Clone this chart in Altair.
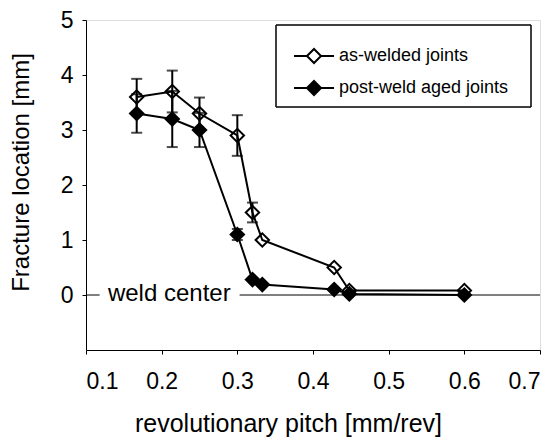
import altair as alt
import pandas as pd

# ---- data ----
pitch = [0.167, 0.214, 0.25, 0.30, 0.32, 0.333, 0.428, 0.448, 0.60]
as_welded = [3.6, 3.7, 3.3, 2.9, 1.5, 1.0, 0.5, 0.08, 0.08]
as_welded_err = [0.33, 0.38, 0.29, 0.37, 0.18, 0.0, 0.0, 0.0, 0.0]
aged = [3.3, 3.2, 3.0, 1.1, 0.28, 0.19, 0.1, 0.02, 0.0]
aged_err = [0.35, 0.51, 0.31, 0.1, 0.0, 0.0, 0.0, 0.0, 0.0]
series = ["as-welded joints", "post-weld aged joints"]

x_ticks = [0.1, 0.2, 0.3, 0.4, 0.5, 0.6, 0.7]
y_ticks = [0, 1, 2, 3, 4, 5]

zero_x = [0.1, 0.303]
zero_x2 = [0.118, 0.7]
label_text = ["weld center"]
label_x = [0.129]

rows = []
for s, vals, errs in [(series[0], as_welded, as_welded_err), (series[1], aged, aged_err)]:
    for p, v, e in zip(pitch, vals, errs):
        rows.append({"pitch": p, "value": v, "err": e, "lo": v - e, "hi": v + e, "series": s})
df = pd.DataFrame(rows)
err_df = df[df["err"] > 0]

zero_df = pd.DataFrame({"x": zero_x, "x2": zero_x2, "y": [0, 0]})
lab_df = pd.DataFrame({"x": label_x, "y": [0], "t": label_text})

FONT = "Liberation Sans"

xs = alt.Scale(domain=[0.1, 0.7], nice=False, zero=False)
ys = alt.Scale(domain=[-1, 5], nice=False, zero=False)

x_axis = alt.Axis(values=x_ticks, format=".1f", grid=False, tickSize=4, labelPadding=16,
                  labelFontSize=23, title="revolutionary pitch [mm/rev]", titleFontSize=25,
                  titleFontWeight="normal", titleX=202, titleY=81, titleBaseline="alphabetic",
                  titleAlign="center", labelFont=FONT, titleFont=FONT, domainColor="black",
                  tickColor="black", labelColor="black", titleColor="black")
y_axis = alt.Axis(values=y_ticks, format="d", grid=False, tickSize=4, labelPadding=9,
                  labelFontSize=23, title="Fracture location [mm]", titleFontSize=24,
                  titleFontWeight="normal", titleX=-58, titleY=152, titleBaseline="alphabetic",
                  titleAlign="center", titleAngle=270, labelFont=FONT, titleFont=FONT,
                  domainColor="black", tickColor="black", labelColor="black", titleColor="black")

zero_line = alt.Chart(zero_df).mark_rule(color="black", strokeWidth=1).encode(
    x=alt.X("x:Q", scale=xs, axis=x_axis), x2="x2:Q", y=alt.Y("y:Q", scale=ys, axis=y_axis)
)

label = alt.Chart(lab_df).mark_text(align="left", baseline="middle", fontSize=24, font=FONT,
                                    color="black", dy=-1).encode(
    x=alt.X("x:Q", scale=xs), y=alt.Y("y:Q", scale=ys), text="t:N"
)

err_rule = alt.Chart(err_df).mark_rule(color="black", strokeWidth=2).encode(
    x=alt.X("pitch:Q", scale=xs), y=alt.Y("lo:Q", scale=ys), y2="hi:Q"
)

caps = alt.Chart(err_df).transform_fold(["lo", "hi"], as_=["k", "v"]).mark_tick(
    color="black", thickness=2, size=11, orient="horizontal").encode(
    x=alt.X("pitch:Q", scale=xs), y=alt.Y("v:Q", scale=ys)
)

lines = alt.Chart(df).mark_line(color="black", strokeWidth=2).encode(
    x=alt.X("pitch:Q", scale=xs), y=alt.Y("value:Q", scale=ys), detail="series:N"
)

legend_path = "M-2,0H-0.7M0.7,0H2M-0.7,0L0,-0.7L0.7,0L0,0.7Z"

points = alt.Chart(df).mark_point(shape="diamond", size=180, filled=False, stroke="black",
                                  strokeWidth=2, opacity=1).encode(
    x=alt.X("pitch:Q", scale=xs), y=alt.Y("value:Q", scale=ys),
    fill=alt.Fill("series:N", scale=alt.Scale(domain=series, range=["transparent", "black"]),
                  legend=alt.Legend(title=None, orient="none", legendX=217, legendY=25,
                                    symbolType=legend_path, symbolSize=400,
                                    symbolStrokeColor="black", symbolStrokeWidth=2,
                                    labelFontSize=18, labelFont=FONT, labelColor="black",
                                    labelLimit=400, labelOffset=14, rowPadding=10, padding=0)),
)

frame = alt.Chart(zero_df).mark_rect(fill="transparent", stroke="black", strokeWidth=1).encode(
    x=alt.value(190), x2=alt.value(445), y=alt.value(5), y2=alt.value(87)
)

chart = alt.layer(zero_line, label, lines, err_rule, caps, points, frame).properties(
    width=454, height=330,
    autosize=alt.AutoSizeParams(type="none"),
    padding={"left": 78, "top": 12, "right": 9, "bottom": 88},
).configure_view(stroke="black", strokeWidth=1).configure(background="white")

chart.save("out.html", embed_options={"renderer": "svg", "actions": False})
